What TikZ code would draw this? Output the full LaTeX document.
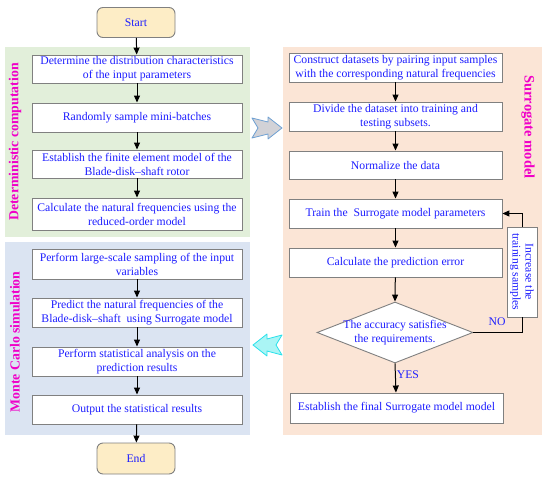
\documentclass[tikz,border=0pt]{standalone}
\usepackage{fontspec}
\setmainfont{Liberation Serif}
\usetikzlibrary{arrows.meta,shapes.geometric}
\definecolor{greenbg}{RGB}{226,239,218}
\definecolor{bluebg}{RGB}{219,228,242}
\definecolor{peachbg}{RGB}{251,229,214}
\definecolor{termfill}{RGB}{253,237,198}
\definecolor{txtblue}{RGB}{30,30,255}
\definecolor{magen}{RGB}{240,0,200}
\definecolor{boxgray}{RGB}{128,128,128}
\definecolor{grayarrow}{RGB}{210,210,215}
\definecolor{grayarrowline}{RGB}{110,160,210}
\definecolor{cyanfill}{RGB}{170,245,245}
\definecolor{cyanline}{RGB}{40,225,235}
\newcommand{\boxfont}{\fontsize{11.7}{14}\selectfont}
\tikzset{
  stepbox/.style={draw=boxgray, fill=white, line width=0.9pt, minimum width=210pt, minimum height=29pt,
    align=center, inner sep=1pt, text=txtblue, font=\boxfont},
  rbox/.style={stepbox, minimum width=213pt},
  term/.style={draw=boxgray, fill=termfill, line width=0.9pt, rounded corners=6pt, minimum width=78pt,
    minimum height=30pt, text=txtblue, font=\boxfont},
  arr/.style={line width=1pt, -{Triangle[length=7pt,width=6pt]}},
  panellabel/.style={text=magen, font=\bfseries\fontsize{13.8}{16}\selectfont},
  lbl/.style={text=txtblue, font=\boxfont, inner sep=1pt}
}
\begin{document}
\begin{tikzpicture}[x=1pt,y=-1pt]
\useasboundingbox (0,0) rectangle (550,480);
% panels
\fill[greenbg] (5,47) rectangle (250,237);
\fill[bluebg] (5,242) rectangle (250,435);
\fill[peachbg] (283,47) rectangle (542,435);
% panel labels
\node[panellabel, rotate=90] (lg) at (15,142) {Deterministic computation};
\node[panellabel, rotate=90] (lm) at (15,342) {Monte Carlo simulation};
\node[panellabel, rotate=-90, font=\bfseries\fontsize{14.5}{16}\selectfont] (ls) at (528,127) {Surrogate model};
% terminals
\node[term] (start) at (136,22.5) {Start};
\node[term, minimum height=31pt] (end) at (136,458.5) {End};
% green boxes
\node[stepbox, minimum height=28pt] (g1) at (137,69) {Determine the distribution characteristics\\of the input parameters};
\node[stepbox] (g2) at (137,117.5) {Randomly sample mini-batches};
\node[stepbox, minimum height=28pt] (g3) at (137,164) {Establish the finite element model of the\\Blade-disk--shaft rotor};
\node[stepbox, minimum height=32pt] (g4) at (137,214) {Calculate the natural frequencies using the\\reduced-order model};
% blue boxes
\node[stepbox, minimum height=30pt] (m1) at (137,264) {Perform large-scale sampling of the input\\variables};
\node[stepbox] (m2) at (137,312.5) {Predict the natural frequencies of the\\Blade-disk--shaft\ \ using Surrogate model};
\node[stepbox] (m3) at (137,361.5) {Perform statistical analysis on the\\prediction results};
\node[stepbox] (m4) at (137,409.5) {Output the statistical results};
% peach boxes
\node[rbox] (s1) at (395.5,67.5) {Construct datasets by pairing input samples\\with the corresponding natural frequencies};
\node[rbox] (s2) at (395.5,116.5) {Divide the dataset into training and\\testing subsets.};
\node[rbox, minimum height=28pt] (s3) at (395.5,165) {Normalize the data};
\node[rbox] (s4) at (395.5,213.5) {Train the\ \ Surrogate model parameters};
\node[rbox] (s5) at (395.5,262.5) {Calculate the prediction error};
\node[draw=boxgray, fill=white, line width=0.9pt, diamond, aspect=2.56, minimum width=156pt, minimum height=61pt, inner sep=0pt] (dia) at (395,332.5) {};
\node[lbl, align=center] (diat) at (dia.center) {The accuracy satisfies\\the requirements.};
\node[rbox, minimum height=30pt] (s6) at (396.5,408) {Establish the final Surrogate model model};
% feedback box (unrotated frame, rotated text)
\node[draw=boxgray, fill=white, line width=0.9pt, minimum width=30pt, minimum height=90pt, inner sep=0pt] (inc) at (522,272) {};
\node[rotate=-90, align=center, inner sep=0pt, text=txtblue, font=\fontsize{11.7}{13}\selectfont] (inct) at (inc.center) {Increase the\\training samples};
% arrows
\draw[arr] (start) -- (g1);
\draw[arr] (g1) -- (g2);
\draw[arr] (g2) -- (g3);
\draw[arr] (g3) -- (g4);
\draw[arr] (m1) -- (m2);
\draw[arr] (m2) -- (m3);
\draw[arr] (m3) -- (m4);
\draw[arr] (m4) -- (end);
\draw[arr] (s1) -- (s2);
\draw[arr] (s2) -- (s3);
\draw[arr] (s3) -- (s4);
\draw[arr] (s4) -- (s5);
\draw[arr] (s5) -- (dia.north);
\draw[arr] (dia.south) -- node[lbl, right, pos=0.4] (yes) {YES} (s6);
\draw[line width=1pt] (dia.east) -| (inc.south);
\draw[arr] (inc.north) |- (s4.east);
\node[lbl] (no) at (497,322) {NO};
% fat arrows
\draw[fill=grayarrow, draw=grayarrowline, line width=0.8pt, line join=round]
  (282,128) -- (268,117) -- (268,122) -- (252,118) -- (258,128) -- (252,138) -- (268,134) -- (268,139) -- cycle;
\draw[fill=cyanfill, draw=cyanline, line width=0.8pt, line join=round]
  (253,345) -- (267,334) -- (267,339) -- (282,335) -- (276,345) -- (282,355) -- (267,351) -- (267,356) -- cycle;
\end{tikzpicture}
\end{document}
